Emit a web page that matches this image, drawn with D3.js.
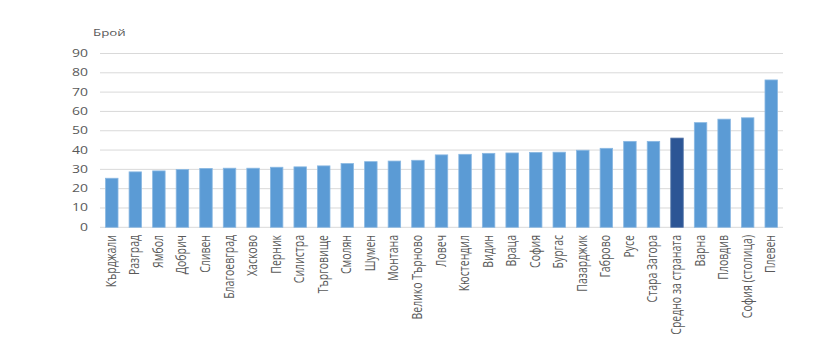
<!DOCTYPE html>
<html>
<head>
<meta charset="utf-8">
<script src="https://cdn.jsdelivr.net/npm/d3@7"></script>
<style>
  body { margin: 0; background: #fff; }
  svg text { font-family: "Open Sans", "Noto Sans", sans-serif; fill: #595959; }
</style>
</head>
<body>
<div id="figure"></div>
<script>
// data
var cities = ["Кърджали", "Разград", "Ямбол", "Добрич", "Сливен", "Благоевград", "Хасково", "Перник",
    "Силистра", "Търговище", "Смолян", "Шумен", "Монтана", "Велико Търново", "Ловеч", "Кюстендил",
    "Видин", "Враца", "София", "Бургас", "Пазарджик", "Габрово", "Русе", "Стара  Загора",
    "Средно за страната", "Варна", "Пловдив", "София (столица)", "Плевен"];
var counts = [25.4, 28.7, 29.2, 29.9, 30.5, 30.6, 30.6, 31.1, 31.3, 31.8, 33.0, 34.0, 34.3, 34.7,
    37.5, 37.8, 38.3, 38.5, 38.8, 38.9, 39.9, 40.9, 44.5, 44.5, 46.2, 54.2, 56.0, 56.7, 76.3];
var highlight = "Средно за страната";
var yTicks = [0, 10, 20, 30, 40, 50, 60, 70, 80, 90];

var w = 819;
var h = 363;
var plotLeft = 100, plotRight = 783, plotTop = 53.5, plotBottom = 227.3;
var sx = 1.4; // text in the picture is stretched sideways

var svg = d3.select("#figure")
    .append("svg")
    .attr("width", w)
    .attr("height", h);

var xScale = d3.scaleBand()
    .domain(cities)
    .range([plotLeft, plotRight])
    .paddingInner(0.47)
    .paddingOuter(0.235);

var yScale = d3.scaleLinear()
    .domain([0, 90])
    .range([plotBottom, plotTop]);

// grid lines
svg.append("g")
    .selectAll("line")
    .data(yTicks)
    .enter()
    .append("line")
    .attr("x1", plotLeft)
    .attr("x2", plotRight)
    .attr("y1", function(d) { return yScale(d); })
    .attr("y2", function(d) { return yScale(d); })
    .attr("stroke", "#d9d9d9")
    .attr("stroke-width", 1);

// y labels
svg.append("g")
    .selectAll("text")
    .data(yTicks)
    .enter()
    .append("text")
    .attr("text-anchor", "end")
    .attr("transform", function(d) {
        return "translate(88," + (yScale(d) + 3.5) + ") scale(" + sx + ",1)";
    })
    .style("font-size", "10px")
    .text(function(d) { return d; });

svg.append("text")
    .attr("transform", "translate(93,36) scale(" + sx + ",1)")
    .style("font-size", "9.5px")
    .text("Брой");

// bars
svg.append("g")
    .selectAll("rect")
    .data(cities)
    .enter()
    .append("rect")
    .attr("x", function(d) { return xScale(d); })
    .attr("width", xScale.bandwidth())
    .attr("y", function(d, i) { return yScale(counts[i]); })
    .attr("height", function(d, i) { return plotBottom - yScale(counts[i]); })
    .attr("fill", function(d) { return d == highlight ? "#2c5595" : "#5b9bd5"; })
    .attr("stroke", function(d) { return d == highlight ? "#5676a8" : "#8ab8e2"; })
    .attr("stroke-width", 0.8);

// category labels, rotated
svg.append("g")
    .selectAll("text")
    .data(cities)
    .enter()
    .append("text")
    .attr("text-anchor", "end")
    .attr("transform", function(d) {
        var cx = xScale(d) + xScale.bandwidth() / 2;
        return "translate(" + (cx + 4) + ",235) scale(" + sx + ",1) rotate(-90)";
    })
    .style("font-size", "10.5px")
    .text(function(d) { return d; });
</script>
</body>
</html>
